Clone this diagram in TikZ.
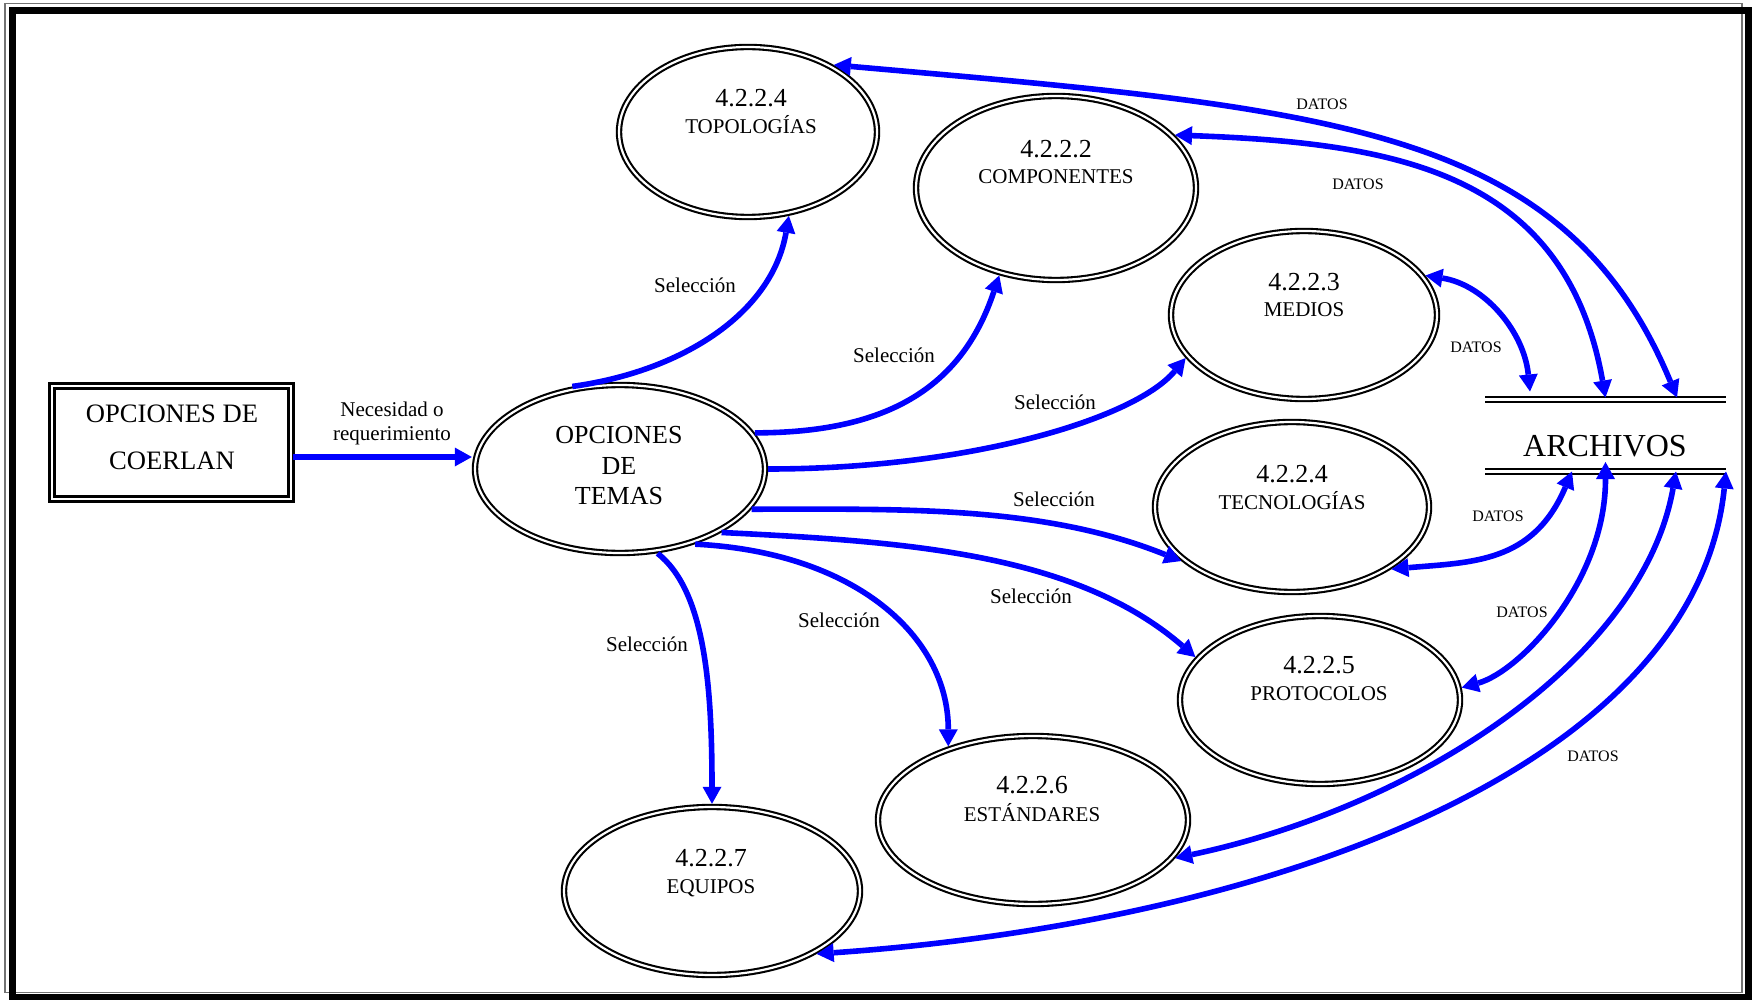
\documentclass[tikz,border=0pt]{standalone}
\usepackage{fontspec}
\setmainfont{Liberation Serif}
\usepackage{tikz}
\usetikzlibrary{positioning,arrows.meta,shapes.geometric}
\tikzset{
proceso/.style = {ellipse, draw, double, line width=1.05pt, double distance=1.1pt, inner sep=0pt, outer sep=1.6pt},
%proceso/.style = {ellipse, draw}
entidad/.style = {rectangle, draw, double, line width=1.4pt, double distance=1.1pt, inner sep=0pt,
  minimum width=119.6pt, minimum height=56.6pt},
almacen/.style = {rectangle, inner sep=0pt, outer sep=0pt, minimum width=120.5pt, minimum height=36pt},
bordedoble/.style = {double, line width=1pt, double distance=1.7pt}
}
\tikzset{flujo/.style={draw=blue, line width=2.8pt, ->}}
\tikzset{flujodoble/.style={flujo, <->}}
\tikzset{numero/.style={anchor=base, font=\fontsize{13}{15}\selectfont}}
\tikzset{nombre/.style={anchor=base, font=\fontsize{10.5}{12}\selectfont}}
\tikzset{sel/.style={font=\fontsize{10.5}{12}\selectfont}}
\tikzset{dato/.style={font=\fontsize{8}{9}\selectfont}}

\begin{document}
\begin{tikzpicture}[x=0.5pt, y=-0.5pt,
      >={Triangle[length=8.5pt, width=9.5pt, line width=0pt]}]
  \useasboundingbox (0,0) rectangle (1757,1000);
  % marco
  \draw [black!55, line width=0.6pt] (5,3.3) rectangle (1742,992.5);
  \draw [line width=3.5pt] (12,10.5) rectangle (1748.5,997.5);

  \node [entidad] (coer) at (171.5,442.5) {};
  \node [align=center, font=\fontsize{13.3}{23.5}\selectfont] (coer-txt) at (172,437.7) {OPCIONES DE\\COERLAN};

  \node [proceso, minimum width=145pt, minimum height=84pt] (temas) at (620,469) {};
  \node [align=center, font=\fontsize{13}{15.25}\selectfont] (temas-txt) at (619,465.9) {OPCIONES\\DE\\TEMAS};

  \node [proceso, minimum width=129pt, minimum height=85pt] (topo) at (748,132) {};
  \node [numero] (topo-num) at (751,107) {4.2.2.4};
  \node [nombre] (topo-nom) at (751,134) {TOPOLOGÍAS};

  \node [proceso, minimum width=140pt, minimum height=92pt] (comp) at (1056,188) {};
  \node [numero] (comp-num) at (1056,158) {4.2.2.2};
  \node [nombre] (comp-nom) at (1056,184) {COMPONENTES};

  \node [proceso, minimum width=133pt, minimum height=84pt] (medios) at (1304,315) {};
  \node [numero] (medios-num) at (1304,291) {4.2.2.3};
  \node [nombre] (medios-nom) at (1304,317) {MEDIOS};

  \node [proceso, minimum width=137pt, minimum height=85pt] (tecno) at (1292,507) {};
  \node [numero] (tecno-num) at (1292,482) {4.2.2.4};
  \node [nombre] (tecno-nom) at (1292,509) {TECNOLOGÍAS};

  \node [proceso, minimum width=140pt, minimum height=84pt] (proto) at (1320,700) {};
  \node [numero] (proto-num) at (1319,673) {4.2.2.5};
  \node [nombre] (proto-nom) at (1319,700) {PROTOCOLOS};

  \node [proceso, minimum width=155pt, minimum height=84pt] (estand) at (1033,820) {};
  \node [numero] (estand-num) at (1032,793) {4.2.2.6};
  \node [nombre] (estand-nom) at (1032,821) {ESTÁNDARES};

  \node [proceso, minimum width=148pt, minimum height=84pt] (equipos) at (712,891) {};
  \node [numero] (equipos-num) at (711,866) {4.2.2.7};
  \node [nombre] (equipos-nom) at (711,893) {EQUIPOS};

  \node [almacen] (archivos) at (1605.5,435.5) {};
  \draw [bordedoble] (archivos.north west) -- (archivos.north east);
  \draw [bordedoble] (archivos.south west) -- (archivos.south east);
  \node [anchor=base, font=\fontsize{16}{18}\selectfont] (archivos-txt) at (1605,456) {ARCHIVOS};

  \draw [flujo] ([yshift=-7.25pt]coer.east) -- ([yshift=6pt]temas.west);
  \node [align=center, font=\fontsize{10.5}{12}\selectfont] (necesidad) at (392,423.2) {Necesidad o\\requerimiento};

  % selecciones
  \draw [flujo] (temas.120) .. controls +(109,-15) and +(-17,98) .. (topo.-64);
  \draw [flujo] (temas.15) .. controls +(130,0) and +(-38,114) .. (comp.-123);
  \draw [flujo] (temas.0) .. controls +(200,0) and +(-51,61) .. (medios.200);
  \draw [flujo] (temas.-17) .. controls +(150,0) and +(-139,-56) .. (tecno.206);
  \draw [flujo] (temas.-32) .. controls +(180,9) and +(-121,-105) .. (proto.161);
  \draw [flujo] (temas.-45) .. controls +(160,8) and +(0,-110) .. (estand.139);
  \draw [flujo] (temas.-66) .. controls +(47,37) and +(0,-120) .. (equipos.north);
  \node [sel] (sel-topo) at (695,285) {Selección};
  \node [sel] (sel-comp) at (894,355) {Selección};
  \node [sel] (sel-medios) at (1055,402) {Selección};
  \node [sel] (sel-tecno) at (1054,499) {Selección};
  \node [sel] (sel-proto) at (1031,596) {Selección};
  \node [sel] (sel-estand) at (839,620) {Selección};
  \node [sel] (sel-equipos) at (647,644) {Selección};

  % datos
  \draw [flujodoble] (topo.38) .. controls +(498,44) and +(-113,-272) .. ([xshift=35.75pt,yshift=1pt]archivos.north);
  \draw [flujodoble] (comp.24) .. controls +(220,8) and +(-40,-226) .. ([yshift=1pt]archivos.north);
  \draw [flujodoble] (medios.18) .. controls +(59,9) and +(-6,-60) .. ([xshift=-37.75pt,yshift=4pt]archivos.north);
  \draw [flujodoble] (tecno.-32) .. controls +(80,-7) and +(-39,92) .. ([xshift=-16.75pt]archivos.south);
  \draw [flujodoble] (proto.5) .. controls +(58,-16) and +(0,120) .. ([yshift=4.75pt]archivos.south);
  \draw [flujodoble] (estand.-15) .. controls +(244,-52) and +(-33,187) .. ([xshift=35.25pt]archivos.south);
  \draw [flujodoble] (equipos.-31) .. controls +(449,-31) and +(-31,298) .. (archivos.south east);
  \node [dato] (dato-topo) at (1322,104) {DATOS};
  \node [dato] (dato-comp) at (1358,184) {DATOS};
  \node [dato] (dato-medios) at (1476,347) {DATOS};
  \node [dato] (dato-tecno) at (1498,516) {DATOS};
  \node [dato] (dato-proto) at (1522,612) {DATOS};
  \node [dato] (dato-equipos) at (1593,756) {DATOS};
\end{tikzpicture}
\end{document}
